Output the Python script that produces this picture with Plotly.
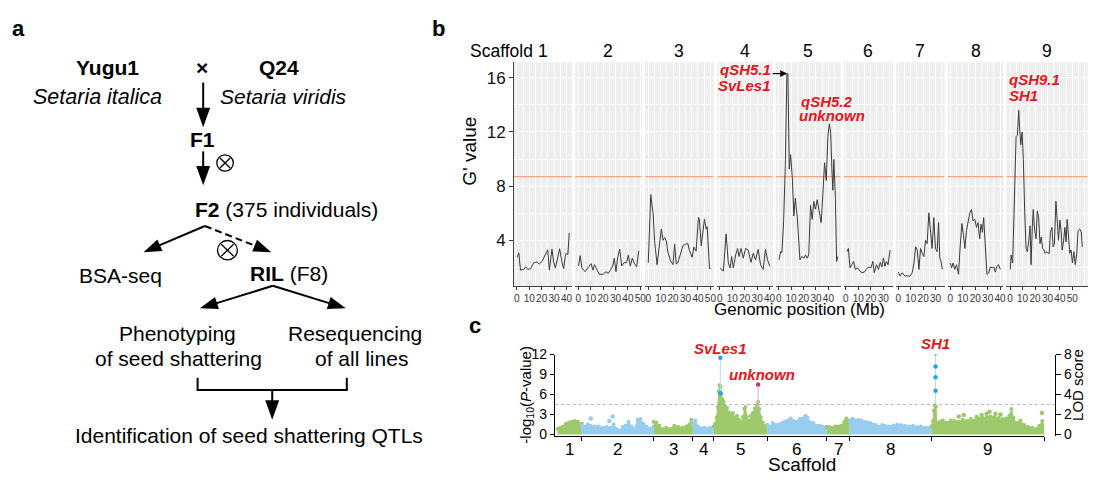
import math
import plotly.graph_objects as go

W, H = 1095, 481
FONT = "Arial, 'Liberation Sans', Helvetica, sans-serif"
RED = "#E8141B"


def X(px):
    return px / W


def Y(py):
    return 1 - py / H


# ======================= Panel b data: BSA-seq G' value =======================
SCAFFOLDS = ["1", "2", "3", "4", "5", "6", "7", "8", "9"]
SCAF_LEN_MB = [42.2, 48.7, 50.2, 40.5, 47.5, 35.9, 35.4, 40.7, 59.4]
SCAF_MAX_TICK = [40, 50, 50, 40, 40, 30, 30, 40, 50]
G_THRESHOLD = 8.7
G_YTICKS = [4, 8, 12, 16]

POS_1 = [0.3, 1.6, 3.0, 5.7, 7.0, 8.9, 11.0, 13.7, 16.3, 18.1, 20.3, 23.0, 24.9, 26.2, 28.3, 29.7, 31.0, 32.9, 34.5, 36.3, 37.7, 39.0, 39.8, 41.1, 42.2]
G_1 = [2.75, 3.07, 1.80, 1.85, 2.04, 1.85, 1.90, 2.35, 2.40, 2.25, 2.44, 3.00, 3.30, 1.80, 3.34, 2.40, 1.95, 2.70, 3.38, 2.40, 1.90, 2.80, 3.05, 2.95, 4.55]

POS_2 = [0.3, 1.6, 3.0, 5.6, 8.3, 10.4, 11.8, 13.1, 15.0, 16.8, 20.3, 22.2, 24.3, 26.2, 27.8, 29.1, 30.4, 31.8, 33.4, 35.0, 36.8, 39.0, 40.3, 41.9, 43.5, 45.1, 47.0, 48.7]
G_2 = [2.10, 2.87, 1.96, 1.68, 2.03, 2.28, 1.80, 2.20, 1.85, 1.49, 1.49, 1.68, 1.55, 1.80, 2.10, 2.68, 1.68, 2.75, 3.35, 2.10, 2.35, 2.35, 2.90, 2.10, 2.68, 2.30, 2.05, 3.23]

POS_3 = [0.0, 2.0, 3.9, 5.2, 7.1, 8.7, 10.5, 11.9, 13.2, 14.5, 15.8, 17.9, 19.9, 21.2, 22.5, 23.8, 26.0, 27.9, 29.7, 31.9, 33.2, 35.3, 36.7, 38.5, 40.4, 41.2, 42.6, 43.9, 45.2, 46.6, 47.4, 49.3, 50.2]
G_3 = [2.35, 7.37, 5.98, 3.83, 2.20, 3.60, 4.83, 4.00, 4.19, 3.95, 3.11, 2.50, 2.20, 3.71, 2.25, 2.35, 3.00, 3.60, 3.71, 3.75, 3.23, 2.75, 3.50, 3.20, 5.70, 5.50, 3.60, 4.40, 5.55, 4.83, 5.00, 1.92, 1.92]

POS_4 = [0.2, 2.8, 5.0, 6.8, 8.2, 9.5, 10.8, 12.7, 14.3, 15.4, 17.0, 18.8, 20.7, 22.8, 25.0, 26.8, 28.7, 30.8, 32.7, 34.8, 36.7, 38.3, 40.2]
G_4 = [1.96, 1.73, 4.47, 2.32, 1.96, 2.80, 1.96, 2.92, 3.40, 2.80, 3.40, 2.68, 3.40, 3.28, 2.37, 3.04, 2.56, 3.33, 2.20, 1.85, 3.33, 2.56, 2.08]

POS_5 = [0.2, 1.6, 2.6, 4.0, 5.3, 6.6, 7.4, 8.5, 9.6, 11.0, 12.2, 13.4, 15.0, 16.2, 17.1, 18.6, 20.3, 21.6, 23.0, 24.2, 25.6, 27.0, 28.3, 29.6, 31.0, 32.3, 34.2, 35.5, 36.9, 38.3, 39.6, 40.7, 41.8, 42.8, 43.6, 44.4, 45.6, 46.6, 47.5]
G_5 = [2.56, 3.16, 3.10, 5.43, 9.50, 16.3, 16.3, 9.26, 10.33, 8.54, 5.80, 7.10, 5.67, 4.24, 2.56, 2.80, 2.68, 2.92, 2.68, 2.92, 6.60, 5.55, 6.87, 6.30, 7.00, 6.30, 5.31, 7.34, 9.73, 8.42, 11.65, 12.6, 12.0, 9.26, 7.70, 9.98, 7.10, 2.44, 2.80]

POS_6 = [0.9, 2.0, 3.3, 4.6, 6.2, 7.6, 9.4, 11.3, 12.9, 14.8, 16.6, 18.8, 20.1, 21.7, 22.8, 24.6, 26.2, 27.6, 28.9, 30.2, 31.3, 32.6, 33.9, 35.5]
G_6 = [3.16, 3.40, 1.96, 2.20, 2.44, 1.85, 1.96, 1.73, 1.61, 1.65, 1.90, 2.03, 1.96, 2.44, 1.61, 2.20, 1.85, 2.37, 2.03, 2.68, 2.08, 2.44, 2.20, 3.28]

POS_7 = [0.0, 1.4, 3.2, 5.2, 7.2, 9.4, 11.2, 12.6, 14.0, 15.2, 16.6, 17.9, 19.2, 20.6, 21.9, 23.2, 24.6, 25.9, 27.2, 28.6, 29.9, 31.2, 32.4, 33.4, 34.4, 35.4]
G_7 = [1.65, 1.37, 1.60, 1.37, 1.37, 1.35, 1.60, 2.32, 3.52, 3.28, 1.85, 3.40, 3.04, 2.80, 4.00, 3.76, 6.03, 4.95, 3.40, 5.67, 3.40, 3.16, 5.31, 2.68, 2.44, 1.85]

POS_8 = [0.0, 1.0, 2.2, 3.6, 5.0, 6.6, 7.9, 9.3, 10.6, 11.7, 13.0, 14.3, 15.7, 17.0, 18.3, 19.7, 21.0, 22.3, 23.6, 24.7, 25.8, 26.8, 28.2, 29.5, 30.9, 32.2, 33.8, 35.1, 36.2, 37.4, 38.8, 40.2]
G_8 = [2.32, 1.96, 2.32, 1.85, 2.20, 1.49, 3.52, 5.24, 4.36, 3.40, 4.71, 5.43, 6.03, 6.27, 5.43, 5.55, 4.95, 5.31, 4.12, 5.19, 4.59, 5.67, 3.28, 1.49, 1.60, 2.03, 1.96, 2.03, 1.65, 2.08, 2.20, 1.85]

POS_9 = [0.1, 0.8, 2.0, 3.4, 4.8, 5.8, 6.9, 7.6, 8.5, 9.6, 10.6, 11.7, 12.8, 13.8, 14.9, 16.0, 16.8, 17.8, 18.6, 19.6, 20.8, 21.8, 22.9, 24.0, 25.0, 26.1, 27.2, 28.2, 29.2, 30.4, 31.4, 32.4, 33.6, 34.6, 35.6, 36.8, 37.8, 38.9, 40.0, 41.0, 41.8, 42.9, 44.0, 45.0, 45.8, 46.9, 48.0, 49.0, 50.1, 51.2, 52.4, 53.6, 54.6, 56.0, 57.2, 58.0]
G_9 = [1.85, 2.92, 2.32, 6.39, 11.65, 11.77, 13.6, 12.36, 11.05, 12.0, 9.98, 6.15, 3.40, 3.16, 3.88, 5.07, 2.20, 4.95, 6.27, 4.83, 4.12, 6.15, 5.67, 3.76, 4.24, 3.40, 3.28, 3.04, 3.16, 3.04, 3.04, 4.59, 4.95, 3.52, 3.76, 6.87, 5.67, 4.00, 5.50, 4.71, 3.28, 3.88, 4.95, 3.88, 5.55, 4.24, 3.04, 3.28, 2.32, 3.16, 2.20, 3.04, 4.71, 4.83, 4.59, 3.52]

# ======================= Panel c data: RIL QTL scan =======================
MAN_LEN = [25.0, 72.3, 39.4, 21.0, 54.0, 59.3, 23.3, 82.4, 113.3]   # map units per scaffold
MAN_YTICKS = [0, 3, 6, 9, 12]
LOD_TICKS = [0, 2, 4, 6, 8]
LOD_THRESHOLD = 3.0

MX_1 = [0.5, 3, 6, 9, 12, 15, 18, 21, 25]
MP_1 = [0.8, 1.0, 1.2, 1.6, 1.8, 1.9, 2.0, 1.9, 1.6]
MX_2 = [25, 28, 31, 34, 38, 42, 46, 50, 54, 57, 60, 63, 66, 69, 72, 75, 78, 81, 84, 87, 90, 93, 97.3]
MP_2 = [1.4, 1.2, 1.5, 1.3, 1.2, 1.2, 1.0, 1.1, 1.0, 1.5, 0.8, 0.6, 1.1, 1.3, 1.9, 1.2, 0.9, 2.2, 2.3, 1.6, 1.2, 0.9, 1.2]
MX_3 = [97.3, 100, 103, 106, 110, 114, 118, 122, 126, 130, 133, 135, 136.7]
MP_3 = [1.9, 1.8, 1.3, 0.8, 1.0, 0.8, 1.3, 1.1, 1.0, 1.2, 1.5, 2.2, 1.5]
MX_4 = [136.7, 139, 142, 145, 148, 151, 154, 157.7]
MP_4 = [1.6, 2.1, 1.2, 0.9, 1.0, 0.9, 1.0, 1.2]
MX_5 = [157.7, 159, 160.5, 161.7, 162.7, 163.5, 164.5, 165.5, 166.5, 167.7, 169, 171, 173, 175, 177, 179, 181, 183, 185, 187, 188.5, 189.5, 191, 193, 195, 197, 199, 201, 202.3, 203.5, 205, 207, 209, 211.7]
MP_5 = [1.2, 1.6, 2.5, 4.1, 6.5, 7.4, 7.2, 6.1, 5.2, 4.9, 4.2, 4.0, 3.3, 3.0, 3.2, 2.5, 2.8, 2.2, 1.8, 2.6, 3.8, 4.1, 2.6, 2.0, 2.8, 3.2, 3.9, 4.4, 4.9, 3.8, 2.6, 1.8, 1.3, 1.4]
MX_6 = [211.7, 214, 217, 220, 223, 226, 229, 232, 235, 238, 241, 244, 247, 250, 252, 255, 258, 261, 264, 267, 271]
MP_6 = [1.3, 1.2, 1.7, 1.4, 1.5, 1.7, 1.9, 2.1, 2.4, 2.0, 1.9, 2.3, 2.4, 2.8, 2.5, 1.8, 1.7, 1.3, 1.3, 1.2, 1.1]
MX_7 = [271, 274, 277, 280, 283, 286, 289, 291, 294.3]
MP_7 = [1.1, 1.1, 1.0, 1.2, 1.2, 1.3, 1.9, 2.4, 2.1]
MX_8 = [294.3, 297, 300, 303, 306, 309, 312, 315, 318, 321, 324, 327, 330, 334, 338, 342, 346, 350, 354, 358, 362, 366, 370, 373, 376.7]
MP_8 = [1.9, 2.1, 2.1, 2.2, 2.1, 1.9, 1.8, 1.7, 1.5, 1.4, 1.1, 1.4, 1.3, 1.2, 1.3, 1.5, 1.4, 1.3, 1.2, 1.3, 1.1, 1.2, 1.0, 1.0, 1.2]
MX_9 = [376.7, 378, 379, 380, 381, 382.3, 385, 388, 392, 396, 400, 404, 408, 412, 416, 420, 424, 428, 432, 436, 440, 444, 448, 452, 455, 457, 459, 462, 466, 470, 474, 478, 482, 485, 488, 490]
MP_9 = [1.2, 2.0, 3.6, 4.4, 4.1, 1.6, 1.9, 2.1, 1.8, 2.1, 2.0, 1.9, 2.2, 2.0, 2.3, 2.1, 2.4, 2.5, 2.6, 2.7, 2.6, 2.5, 2.3, 2.4, 2.8, 3.8, 2.5, 1.7, 2.1, 1.4, 1.1, 1.0, 0.8, 1.3, 2.0, 1.2]

OUT_X = [34, 52.7, 56, 297.3, 404, 409, 422, 427, 432, 435, 441, 446, 487.7]
OUT_P = [2.4, 2.0, 2.7, 2.3, 2.7, 2.9, 2.6, 2.9, 3.1, 3.4, 3.1, 3.0, 3.2]

QTL_NAMES = ["SvLes1", "unknown", "SH1"]
QTL_X = [164.3, 202.3, 380.7]
QTL_LOD = [[7.67, 4.13], [5.0], [8.13, 6.8, 5.73, 4.37]]
QTL_STEM_BASE = [4.13, 2.4, 2.9]
QTL_DOT_COLOR = ["#1EA8E6", "#C0358F", "#1EA8E6"]
QTL_STEM_COLOR = ["#B5DCF2", "#E9A9CC", "#B5DCF2"]

GREEN = "#9DC96C"
BLUE = "#98CDEF"

POS = [POS_1, POS_2, POS_3, POS_4, POS_5, POS_6, POS_7, POS_8, POS_9]
GV = [G_1, G_2, G_3, G_4, G_5, G_6, G_7, G_8, G_9]
MX = [MX_1, MX_2, MX_3, MX_4, MX_5, MX_6, MX_7, MX_8, MX_9]
MP = [MP_1, MP_2, MP_3, MP_4, MP_5, MP_6, MP_7, MP_8, MP_9]


def axname(letter, k):
    return f"{letter}axis" if k == 1 else f"{letter}axis{k}"


def axref(letter, k):
    return letter if k == 1 else f"{letter}{k}"


fig = go.Figure()
shapes, anns = [], []
layout = dict(width=W, height=H, autosize=False, margin=dict(l=0, r=0, t=0, b=0),
              paper_bgcolor="white", plot_bgcolor="white", showlegend=False,
              font=dict(family=FONT, color="black"))


def txt(s, x, y, size=21, color="black", xanchor="center", yanchor="middle", angle=0):
    anns.append(dict(text=s, x=X(x), y=Y(y), xref="paper", yref="paper", showarrow=False,
                     font=dict(size=size, color=color, family=FONT),
                     xanchor=xanchor, yanchor=yanchor, textangle=angle))


def seg(x0, y0, x1, y1, width=2.0, dash=None, color="black"):
    ln = dict(color=color, width=width)
    if dash:
        ln["dash"] = dash
    shapes.append(dict(type="line", xref="paper", yref="paper", x0=X(x0), y0=Y(y0),
                       x1=X(x1), y1=Y(y1), line=ln))


def arrow(x0, y0, x1, y1, head_len=20, head_w=14, width=2.0, dash=None):
    dx, dy = x1 - x0, y1 - y0
    L = math.hypot(dx, dy)
    ux, uy = dx / L, dy / L
    bx, by = x1 - ux * head_len, y1 - uy * head_len
    seg(x0, y0, bx + ux * 2, by + uy * 2, width=width, dash=dash)
    px, py = -uy, ux
    pts = [(x1, y1), (bx + px * head_w / 2, by + py * head_w / 2), (bx - px * head_w / 2, by - py * head_w / 2)]
    path = "M " + " L ".join(f"{X(a):.5f},{Y(b):.5f}" for a, b in pts) + " Z"
    shapes.append(dict(type="path", xref="paper", yref="paper", path=path,
                       fillcolor="black", line=dict(width=0)))


def otimes(cx, cy, r, width=1.3):
    shapes.append(dict(type="circle", xref="paper", yref="paper", x0=X(cx - r), x1=X(cx + r),
                       y0=Y(cy + r), y1=Y(cy - r), line=dict(color="black", width=width)))
    d = r * 0.62
    seg(cx - d, cy - d, cx + d, cy + d, width=width)
    seg(cx - d, cy + d, cx + d, cy - d, width=width)


# ======================= Panel a: flowchart =======================
txt("<b>a</b>", 18, 20.7, size=22)
txt("<b>Yugu1</b>", 106.7, 61, size=21)
txt("<b>×</b>", 202, 61, size=21)
txt("<b>Q24</b>", 280, 61, size=21)
txt("<i>Setaria italica</i>", 97.5, 91.5, size=21.5)
txt("<i>Setaria viridis</i>", 284, 91.5, size=21)
arrow(203.3, 77, 203.3, 123)
txt("<b>F1</b>", 202.5, 136, size=21)
arrow(203.3, 148, 203.3, 183)
otimes(225.3, 160, 8.3)
txt("<b>F2</b> (375 individuals)", 287.5, 207.5, size=21)
arrow(205, 225, 143.3, 252, head_len=18, head_w=13)
arrow(205, 225, 271.7, 252, head_len=18, head_w=13, dash="7px,4px")
otimes(227.7, 250, 10)
txt("BSA-seq", 120, 276, size=21)
txt("<b>RIL</b> (F8)", 289.2, 274, size=21)
arrow(273.3, 286.7, 200, 310, head_len=18, head_w=13)
arrow(273.3, 286.7, 346.7, 310, head_len=18, head_w=13)
txt("Phenotyping", 177.5, 336, size=21)
txt("of seed shattering", 178.3, 361.5, size=21)
txt("Resequencing", 355.8, 336, size=21)
txt("of all lines", 362.5, 361.5, size=21)
seg(197.7, 381.7, 197.7, 394.3)
seg(347.7, 381.7, 347.7, 394.3)
seg(196.7, 394.3, 348.7, 394.3)
arrow(272.7, 394.3, 272.7, 425)
txt("Identification of seed shattering QTLs", 249.2, 441.5, size=21)

# ======================= Panel b: faceted G' value =======================
FACET_LEFT_PX = [516, 577.3, 647.7, 720.3, 779, 847.3, 900, 952, 1011]
FACET_RIGHT_PX = [574, 644.3, 716.7, 776, 844.3, 896.7, 948.7, 1008, 1092.7]
B_TOP, B_BOT = 56, 287.3
G_RANGE = [0.6, 17.15]

txt("<b>b</b>", 440, 20.7, size=22)
txt("Scaffold", 502.8, 44.5, size=17.5)

for i in range(9):
    k = i + 1
    L = SCAF_LEN_MB[i]
    xr = [-0.05 * L, 1.05 * L]
    xa, ya = axref("x", k), axref("y", k)
    xticks = list(range(0, SCAF_MAX_TICK[i] + 1, 10))
    shapes.append(dict(type="rect", xref=f"{xa} domain", yref=f"{ya} domain", x0=0, x1=1, y0=0, y1=1,
                       fillcolor="#EEEEEE", line=dict(width=0), layer="below"))
    fig.add_trace(go.Scatter(x=xr, y=[G_THRESHOLD, G_THRESHOLD], mode="lines",
                             line=dict(color="#F4A582", width=1.3), xaxis=xa, yaxis=ya, hoverinfo="skip"))
    fig.add_trace(go.Scatter(x=POS[i], y=GV[i], mode="lines", line=dict(color="#3A3A3A", width=1),
                             xaxis=xa, yaxis=ya, hoverinfo="skip"))
    layout[axname("x", k)] = dict(
        domain=[X(FACET_LEFT_PX[i]), X(FACET_RIGHT_PX[i])], anchor=ya, range=xr,
        tickmode="array", tickvals=xticks, ticktext=[str(t) for t in xticks],
        ticks="outside", ticklen=3, tickwidth=1, tickcolor="#333",
        tickangle=0, tickfont=dict(size=10, color="#333", family=FONT),
        showline=True, linecolor="#444", linewidth=1, zeroline=False,
        showgrid=True, gridcolor="white", gridwidth=1.1,
        minor=dict(tickmode="linear", tick0=0, dtick=5, showgrid=True, gridcolor="white", gridwidth=0.5),
        fixedrange=True)
    yax = dict(domain=[Y(B_BOT), Y(B_TOP)], anchor=xa, range=G_RANGE, tickmode="array", tickvals=G_YTICKS,
               showgrid=True, gridcolor="white", gridwidth=1.1, zeroline=False,
               minor=dict(tickmode="linear", tick0=0, dtick=2, showgrid=True, gridcolor="white", gridwidth=0.5),
               fixedrange=True)
    if k == 1:
        yax.update(showticklabels=True, ticks="outside", ticklen=4, tickcolor="#333", tickwidth=1,
                   tickfont=dict(size=17, color="#111", family=FONT), showline=True, linecolor="#444", linewidth=1)
    else:
        yax.update(showticklabels=False, ticks="", showline=False)
    layout[axname("y", k)] = yax
    txt(SCAFFOLDS[i], (FACET_LEFT_PX[i] + FACET_RIGHT_PX[i]) / 2, 44.5, size=17.5)

txt("G' value", 471, 148, size=19, angle=-90)
txt("Genomic position (Mb)", 803, 311.5, size=17)

# QTL labels in panel b
txt("<b><i>qSH5.1</i></b>", 776, 63.5, size=15, color=RED, xanchor="right")
txt("<b><i>SvLes1</i></b>", 776, 80, size=15, color=RED, xanchor="right")
arrow(776, 67.7, 790.5, 67.7, head_len=7, head_w=7, width=1.2)
txt("<b><i>qSH5.2</i></b>", 802, 96.8, size=15, color=RED, xanchor="left")
txt("<b><i>unknown</i></b>", 800, 110.8, size=15, color=RED, xanchor="left")
txt("<b><i>qSH9.1</i></b>", 1012, 73.5, size=15, color=RED, xanchor="left")
txt("<b><i>SH1</i></b>", 1012, 90.8, size=15, color=RED, xanchor="left")

# ======================= Panel c: Manhattan / LOD =======================
bounds = []
acc = 0.0
for ln in MAN_LEN:
    acc += ln
    bounds.append(round(acc, 2))
starts = [0.0] + bounds[:-1]
centers = [(a + b) / 2 for a, b in zip(starts, bounds)]
scaf_colors = [GREEN if i % 2 == 0 else BLUE for i in range(9)]

txt("<b>c</b>", 476.5, 327.4, size=22)

for i in range(9):
    col = scaf_colors[i]
    fig.add_trace(go.Scatter(x=MX[i], y=MP[i], mode="lines+markers", fill="tozeroy", fillcolor=col,
                             line=dict(color=col, width=1), marker=dict(size=4, color=col),
                             xaxis="x10", yaxis="y10", hoverinfo="skip"))

out_cols = []
for x in OUT_X:
    idx = next(j for j, b in enumerate(bounds) if x <= b)
    out_cols.append(scaf_colors[idx])
fig.add_trace(go.Scatter(x=OUT_X, y=OUT_P, mode="markers", marker=dict(size=4.5, color=out_cols),
                         xaxis="x10", yaxis="y10", hoverinfo="skip"))

for i in range(len(QTL_NAMES)):
    top = max(QTL_LOD[i])
    fig.add_trace(go.Scatter(x=[QTL_X[i], QTL_X[i]], y=[QTL_STEM_BASE[i], top], mode="lines",
                             line=dict(color=QTL_STEM_COLOR[i], width=1), xaxis="x10", yaxis="y11",
                             hoverinfo="skip"))
    fig.add_trace(go.Scatter(x=[QTL_X[i]] * len(QTL_LOD[i]), y=QTL_LOD[i], mode="markers",
                             marker=dict(size=4.5, color=QTL_DOT_COLOR[i]), xaxis="x10", yaxis="y11",
                             hoverinfo="skip"))

C_LEFT, C_RIGHT_X, C_RIGHT_AX = 557, 1049, 1060
C_TOP, C_BOT = 357.7, 441.5
P_RANGE = [-0.2, 12]
LOD_RANGE = [P_RANGE[0] / 1.5, P_RANGE[1] / 1.5]

layout["xaxis10"] = dict(domain=[X(C_LEFT), X(C_RIGHT_X)], anchor="y10", range=[-2, bounds[-1]],
                         tickmode="array", tickvals=bounds, showticklabels=False, ticks="outside",
                         ticklen=4, tickwidth=1, tickcolor="black", showline=True, linecolor="black",
                         linewidth=1, showgrid=False, zeroline=False, fixedrange=True)
layout["yaxis10"] = dict(domain=[Y(C_BOT), Y(C_TOP)], anchor="x10", range=P_RANGE, tickmode="array",
                         tickvals=MAN_YTICKS, ticks="outside", ticklen=4, tickwidth=1, tickcolor="black",
                         tickfont=dict(size=14, family=FONT), showline=True, linecolor="black", linewidth=1,
                         showgrid=False, zeroline=False, fixedrange=True)
layout["yaxis11"] = dict(domain=[Y(C_BOT), Y(C_TOP)], overlaying="y10", anchor="free", position=X(C_RIGHT_AX),
                         side="right", range=LOD_RANGE, tickmode="array", tickvals=LOD_TICKS, ticks="outside",
                         ticklen=5, tickwidth=1, tickcolor="black", tickfont=dict(size=14, family=FONT),
                         showline=True, linecolor="black", linewidth=1, showgrid=False, zeroline=False,
                         fixedrange=True)

shapes.append(dict(type="line", xref="paper", yref="y11", x0=X(C_LEFT), x1=X(C_RIGHT_AX),
                   y0=LOD_THRESHOLD, y1=LOD_THRESHOLD, line=dict(color="#A0A0A0", width=0.8, dash="dot")))

for i in range(9):
    anns.append(dict(text=SCAFFOLDS[i], x=centers[i], xref="x10", y=Y(455.7), yref="paper", showarrow=False,
                     font=dict(size=17, family=FONT, color="black"), xanchor="center", yanchor="middle"))

txt("Scaffold", 805, 471.7, size=19)
txt("-log<sub>10</sub>(<i>P</i>-value)", 528, 399, size=15, angle=-90)
txt("LOD score", 1083, 389, size=15, angle=-90)

QTL_LABEL_DX = [0, 4, 0]
QTL_LABEL_Y = [351.5, 378.1, 345.8]
for i in range(len(QTL_NAMES)):
    anns.append(dict(text=f"<b><i>{QTL_NAMES[i]}</i></b>", x=QTL_X[i] + QTL_LABEL_DX[i], xref="x10",
                     y=Y(QTL_LABEL_Y[i]), yref="paper", showarrow=False,
                     font=dict(size=15, family=FONT, color=RED), xanchor="center", yanchor="middle"))

layout["shapes"] = shapes
layout["annotations"] = anns
fig.update_layout(**layout)
fig.write_html("out.html", include_plotlyjs=True, config={"displayModeBar": False})
